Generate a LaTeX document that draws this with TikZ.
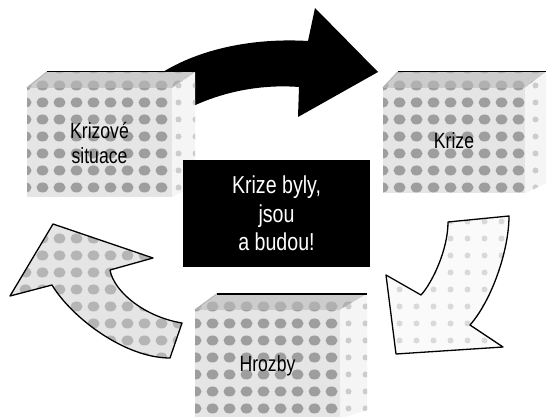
\documentclass[tikz,border=0pt]{standalone}
\usepackage{fontspec}
\setmainfont{Liberation Sans}[FakeStretch=0.8]
\usetikzlibrary{patterns}
\pgfdeclarepatternformonly{blobgrid}{\pgfqpoint{-1pt}{-1pt}}{\pgfqpoint{18pt}{18pt}}{\pgfqpoint{17pt}{17pt}}{%
  \pgfpathellipse{\pgfqpoint{8.5pt}{8.5pt}}{\pgfqpoint{6pt}{0pt}}{\pgfqpoint{0pt}{5pt}}\pgfusepath{fill}}
\pgfdeclarepatternformonly{smallblobs}{\pgfqpoint{-1pt}{-1pt}}{\pgfqpoint{18pt}{18pt}}{\pgfqpoint{17pt}{17pt}}{%
  \pgfpathellipse{\pgfqpoint{8.5pt}{8.5pt}}{\pgfqpoint{3pt}{0pt}}{\pgfqpoint{0pt}{3pt}}\pgfusepath{fill}}
\definecolor{facebg}{gray}{0.9}
\definecolor{blobcol}{gray}{0.62}
\tikzset{
  front/.style={rectangle, inner sep=0pt, text depth=0pt, fill=facebg,
    postaction={pattern=blobgrid, pattern color=blobcol},
    font=\fontsize{22}{25}\selectfont, align=center, text=black},
  topface/.style={fill=gray!40, postaction={pattern=blobgrid, pattern color=gray!62}},
  sideface/.style={fill=gray!8, postaction={pattern=smallblobs, pattern color=gray!40}},
  backedge/.style={line width=1.4pt, black},
  slantedge/.style={line width=0.8pt, gray!60},
  centerbox/.style={rectangle, fill=black, text=white, inner sep=0pt,
    minimum width=187pt, minimum height=107pt, align=center,
    font=\fontsize{24.5}{28.5}\selectfont},
  darkarrow/.style={fill=black},
  lightarrow/.style={preaction={fill=gray!4}, preaction={pattern=smallblobs, pattern color=gray!30},
    draw=black, line width=1.3pt, line join=round},
  greyarrow/.style={preaction={fill=gray!20}, preaction={pattern=blobgrid, pattern color=gray!58},
    draw=black, line width=1.3pt, line join=round}
}
\begin{document}
\begin{tikzpicture}[x=1pt,y=-1pt]
\path[use as bounding box, fill=white] (0,0) rectangle (546,417);

% dark curved arrow (top)
\path[darkarrow] (145,85) .. controls (180,55) and (240,37) .. (308,41) -- (315,8) -- (378,72)
  -- (298,117) -- (299,87) .. controls (260,84) and (220,92) .. (185,110) -- cycle;

% box: Krizove situace
\node[front, minimum width=145pt, minimum height=109pt] (k1) at (99.5,142.5) {Krizové\\situace};
\path[topface] (k1.north west) -- ++(20,-16) -- ([shift={(23,-16)}]k1.north east) -- (k1.north east) -- cycle;
\path[sideface] (k1.north east) -- ++(23,-16) -- ([shift={(23,-12)}]k1.south east) -- (k1.south east) -- cycle;
\draw[backedge] ([shift={(20,-16)}]k1.north west) -- ([shift={(23,-16)}]k1.north east);
\draw[slantedge] (k1.north west) -- ++(20,-16);

% box: Krize
\node[front, minimum width=142pt, minimum height=105pt] (k2) at (454,140.5) {Krize};
\path[topface] (k2.north west) -- ++(15,-16) -- ([shift={(21,-16)}]k2.north east) -- (k2.north east) -- cycle;
\path[sideface] (k2.north east) -- ++(21,-16) -- ([shift={(21,-10)}]k2.south east) -- (k2.south east) -- cycle;
\draw[backedge] ([shift={(15,-16)}]k2.north west) -- ([shift={(21,-16)}]k2.north east);
\draw[slantedge] (k2.north west) -- ++(15,-16);

% central black box
\node[centerbox] (c) at (276.5,213.6) {Krize byly,\\jsou\\a budou!};

% box: Hrozby
\node[front, minimum width=145pt, minimum height=108pt] (k3) at (267.5,364) {Hrozby};
\path[topface] (k3.north west) -- ++(22,-16) -- ([shift={(27,-16)}]k3.north east) -- (k3.north east) -- cycle;
\path[sideface] (k3.north east) -- ++(27,-16) -- ([shift={(27,-8)}]k3.south east) -- (k3.south east) -- cycle;
\draw[backedge] ([shift={(22,-16)}]k3.north west) -- ([shift={(27,-16)}]k3.north east);
\draw[slantedge] (k3.north west) -- ++(22,-16);

% light curved arrow (right, pointing down-left)
\draw[lightarrow] (448,222) -- (509,216) .. controls (509,250) and (492,300) .. (470,325)
  -- (503,347) -- (396,354) -- (386,275) -- (421,295) .. controls (432,283) and (448,250) .. (448,222) -- cycle;

% grey curved arrow (left, pointing up-left)
\draw[greyarrow] (53,224) -- (153,258) -- (110,270) .. controls (114,292) and (145,317) .. (182,323)
  -- (170,358) .. controls (125,358) and (72,318) .. (52,285) -- (10,296) -- cycle;
\end{tikzpicture}
\end{document}
